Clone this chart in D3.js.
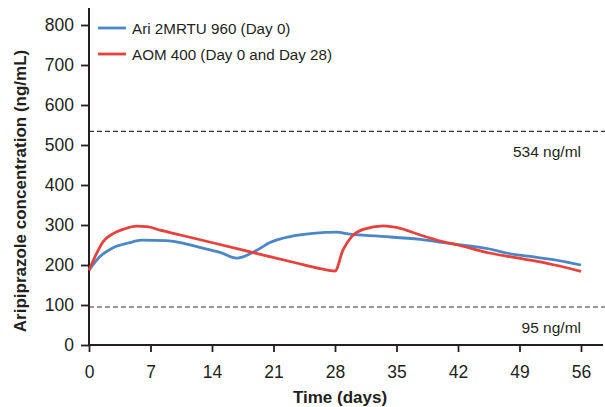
<!DOCTYPE html>
<html>
<head>
<meta charset="utf-8">
<script src="https://cdn.jsdelivr.net/npm/d3@7/dist/d3.min.js"></script>
<style>
  html, body { margin: 0; padding: 0; background: #fff; }
  svg { display: block; font-family: "Liberation Sans", Arial, sans-serif; }
</style>
</head>
<body>
<svg id="chart" width="605" height="407"></svg>
<script>
// Mean aripiprazole plasma concentration over time (days)
const ariDays   = [0, 1.25, 2.8, 4.5, 6, 8.8, 10.4, 12.6, 15, 16.8, 19.1, 20.6, 22.9, 25.5, 28.2, 29.7, 33, 37.7, 41, 45.6, 47.5, 50, 53, 56];
const ariValues = [187, 221, 244, 255, 262, 261, 256, 244, 231, 217, 237, 256, 271, 279, 282, 277, 272, 264, 254, 240, 230, 222, 213, 200];

const aomDays   = [0, 0.87, 1.6, 2.8, 4, 5.4, 6.6, 8.1, 10.4, 14.2, 18.7, 23.6, 26.3, 28, 28.9, 29.9, 31.2, 33.5, 35, 37.7, 40, 42, 45.6, 50, 53, 56];
const aomValues = [187, 229, 258, 279, 290, 297, 296, 287, 275, 255, 231, 205, 191, 185, 237, 271, 289, 298, 294, 275, 260, 250, 230, 213, 200, 184];

const seriesNames  = ["Ari 2MRTU 960 (Day 0)", "AOM 400 (Day 0 and Day 28)"];
const seriesColors = ["#4C86C6", "#E8413B"];

const xTicks = [0, 7, 14, 21, 28, 35, 42, 49, 56];
const yTicks = [0, 100, 200, 300, 400, 500, 600, 700, 800];

const refValues = [534, 95];
const refLabels = ["534 ng/ml", "95 ng/ml"];

const xTitle = "Time (days)";
const yTitle = "Aripiprazole concentration (ng/mL)";

const svg = d3.select("#chart");
const ink = "#231f20";

const x = d3.scaleLinear().domain([0, 56]).range([89, 581]);
const y = d3.scaleLinear().domain([0, 800]).range([345, 25]);

// Reference threshold lines
refValues.forEach((v, i) => {
  svg.append("line")
    .attr("x1", 89).attr("x2", 605)
    .attr("y1", y(v)).attr("y2", y(v))
    .attr("stroke", "#333").attr("stroke-width", 1.1)
    .attr("stroke-dasharray", "5,3");
  svg.append("text")
    .attr("x", x(56)).attr("y", y(v) + 26)
    .attr("text-anchor", "end")
    .attr("font-size", 15.5).attr("fill", ink)
    .text(refLabels[i]);
});

// Y axis
const yAxis = svg.append("g").attr("transform", "translate(89,0)")
  .call(d3.axisLeft(y).tickValues(yTicks).tickSize(8).tickPadding(7).tickSizeOuter(0));
yAxis.select(".domain").remove();
yAxis.append("line").attr("x1", 0).attr("x2", 0).attr("y1", 8).attr("y2", 346)
  .attr("stroke", ink).attr("stroke-width", 2);
yAxis.selectAll(".tick line").attr("stroke", ink).attr("stroke-width", 1.8);
yAxis.selectAll(".tick text").attr("font-size", 17.5).attr("fill", ink)
  .attr("font-family", "Liberation Sans, Arial, sans-serif");

// X axis
const xAxis = svg.append("g").attr("transform", "translate(0,345)")
  .call(d3.axisBottom(x).tickValues(xTicks).tickSize(7).tickPadding(14).tickSizeOuter(0));
xAxis.select(".domain").remove();
xAxis.append("line").attr("x1", 88).attr("x2", 603).attr("y1", 0).attr("y2", 0)
  .attr("stroke", ink).attr("stroke-width", 2);
xAxis.selectAll(".tick line").attr("stroke", ink).attr("stroke-width", 1.8);
xAxis.selectAll(".tick text").attr("font-size", 17.5).attr("fill", ink)
  .attr("font-family", "Liberation Sans, Arial, sans-serif");

// Axis titles
svg.append("text")
  .attr("x", 340).attr("y", 403)
  .attr("text-anchor", "middle")
  .attr("font-size", 17).attr("font-weight", "bold").attr("fill", ink)
  .text(xTitle);
svg.append("text")
  .attr("transform", "translate(26,191) rotate(-90)")
  .attr("text-anchor", "middle")
  .attr("font-size", 17).attr("font-weight", "bold").attr("fill", ink)
  .text(yTitle);

// Concentration curves
const line = d3.line()
  .x(d => x(d[0])).y(d => y(d[1]))
  .curve(d3.curveMonotoneX);

const series = [
  d3.zip(ariDays, ariValues),
  d3.zip(aomDays, aomValues)
];

series.forEach((pts, i) => {
  svg.append("path")
    .datum(pts)
    .attr("fill", "none")
    .attr("stroke", seriesColors[i])
    .attr("stroke-width", 2.8)
    .attr("stroke-linejoin", "round")
    .attr("d", line);
});

// Legend
seriesNames.forEach((name, i) => {
  const ly = 28 + i * 26;
  svg.append("line")
    .attr("x1", 98).attr("x2", 126).attr("y1", ly).attr("y2", ly)
    .attr("stroke", seriesColors[i]).attr("stroke-width", 2.8);
  svg.append("text")
    .attr("x", 132).attr("y", ly + 5.5)
    .attr("font-size", 15.2).attr("fill", ink)
    .text(name);
});
</script>
</body>
</html>
